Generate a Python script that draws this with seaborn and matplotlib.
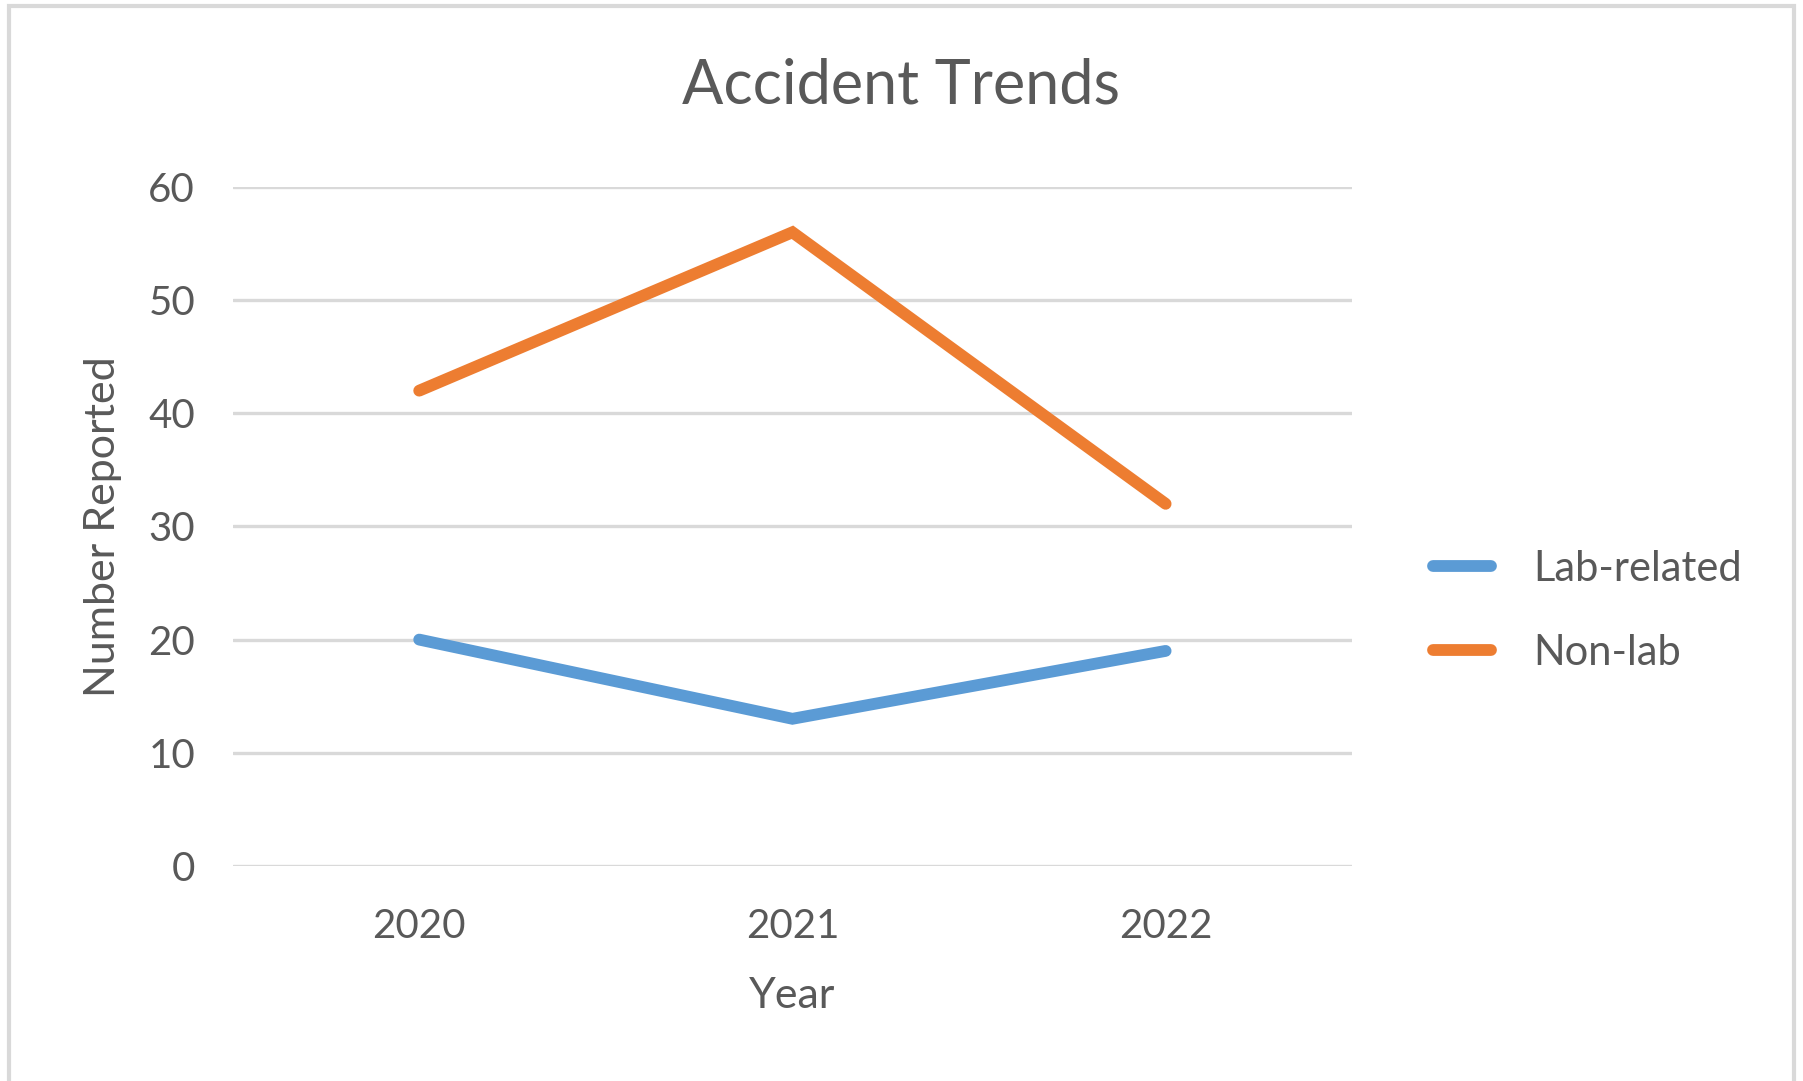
import matplotlib
matplotlib.use("Agg")
import matplotlib.pyplot as plt
import seaborn as sns
import pandas as pd
from matplotlib.patches import Rectangle
from matplotlib.lines import Line2D

years = ["2020", "2021", "2022"]
lab_related = [20, 13, 19]
non_lab = [42, 56, 32]
series_names = ["Lab-related", "Non-lab"]
yticks = [0, 10, 20, 30, 40, 50, 60]

df = pd.DataFrame({
    "Year": years * 2,
    "Number Reported": lab_related + non_lab,
    "Series": [series_names[0]] * 3 + [series_names[1]] * 3,
})

sns.set_theme(style="white")
plt.rcParams["font.family"] = ["Lato", "DejaVu Sans"]

text_color = "#595959"
colors = {"Lab-related": "#5B9BD5", "Non-lab": "#ED7D31"}
lw = 8.5

fig = plt.figure(figsize=(18.03, 10.81), dpi=100)
ax = fig.add_axes([0.129, 0.199, 0.621, 0.628])

sns.lineplot(data=df, x="Year", y="Number Reported", hue="Series",
             palette=colors, linewidth=lw, ax=ax, legend=False,
             sort=False)
for ln in ax.lines:
    ln.set_solid_capstyle("round")
    ln.set_solid_joinstyle("miter")

ax.set_xlim(-0.5, 2.5)
ax.set_ylim(0, 60)
ax.set_yticks(yticks)
ax.yaxis.grid(True, color="#D9D9D9", linewidth=2.4)
ax.xaxis.grid(False)
ax.set_axisbelow(True)
for s in ax.spines.values():
    s.set_visible(False)
ax.tick_params(axis="both", length=0, labelsize=29, labelcolor=text_color)
ax.tick_params(axis="x", pad=30)
ax.tick_params(axis="y", pad=27)
ax.set_xlabel("Year", fontsize=31, color=text_color)
ax.set_ylabel("Number Reported", fontsize=31, color=text_color)
ax.xaxis.label.set_va("center")
ax.yaxis.label.set_va("center")
ax.xaxis.set_label_coords(0.5, -0.191)
ax.yaxis.set_label_coords(-0.116, 0.5)
fig.text(0.5, 0.920, "Accident Trends", ha="center", va="center",
         fontsize=44, color=text_color)

handles = [Line2D([0], [0], color=colors[n], linewidth=lw, solid_capstyle="round")
           for n in series_names]
fig.legend(handles, series_names, loc="center left",
           bbox_to_anchor=(0.774, 0.435), frameon=False, fontsize=30,
           labelcolor=text_color, handlelength=1.4, handletextpad=1.0,
           labelspacing=1.1)

fig.patches.append(Rectangle((0.005, -0.01), 0.99, 1.004, transform=fig.transFigure,
                             fill=False, edgecolor="#D9D9D9", linewidth=3))

fig.savefig("out.png", dpi=100, facecolor="white")
